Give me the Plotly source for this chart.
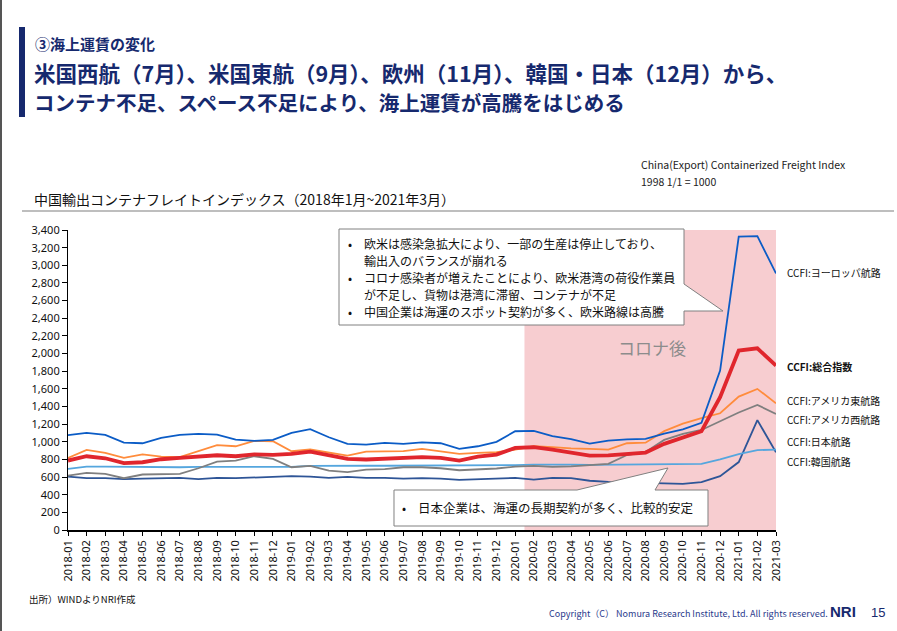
import plotly.graph_objects as go

months = ["2018-01", "2018-02", "2018-03", "2018-04", "2018-05", "2018-06", "2018-07", "2018-08",
          "2018-09", "2018-10", "2018-11", "2018-12", "2019-01", "2019-02", "2019-03", "2019-04",
          "2019-05", "2019-06", "2019-07", "2019-08", "2019-09", "2019-10", "2019-11", "2019-12",
          "2020-01", "2020-02", "2020-03", "2020-04", "2020-05", "2020-06", "2020-07", "2020-08",
          "2020-09", "2020-10", "2020-11", "2020-12", "2021-01", "2021-02", "2021-03"]

europe = [1075, 1100, 1078, 990, 983, 1044, 1078, 1089, 1081, 1025, 1010, 1021, 1100, 1142,
          1051, 976, 968, 987, 976, 994, 983, 919, 949, 999, 1119, 1123, 1065, 1030, 980, 1013,
          1028, 1032, 1092, 1140, 1215, 1806, 3324, 3330, 2908]
composite = [787, 836, 813, 757, 768, 802, 817, 829, 847, 836, 858, 851, 863, 889, 844, 806,
             799, 806, 813, 825, 817, 787, 832, 855, 931, 938, 910, 880, 844, 845, 863, 878,
             976, 1048, 1120, 1504, 2033, 2059, 1863]
us_east = [817, 908, 874, 817, 858, 832, 825, 893, 961, 949, 1010, 1006, 893, 912, 881, 844,
           889, 893, 893, 919, 893, 863, 874, 881, 912, 949, 940, 925, 920, 912, 983, 990,
           1120, 1205, 1268, 1323, 1512, 1599, 1436]
us_west = [617, 648, 636, 587, 629, 636, 636, 700, 776, 787, 836, 806, 711, 727, 674, 655,
           685, 690, 711, 711, 700, 677, 690, 697, 719, 727, 715, 720, 735, 749, 850, 885,
           1021, 1090, 1134, 1230, 1332, 1418, 1315]
japan = [693, 719, 719, 715, 719, 715, 711, 715, 715, 711, 708, 708, 715, 727, 730, 730,
         728, 728, 728, 728, 728, 728, 728, 730, 735, 742, 745, 742, 738, 740, 738, 738,
         738, 740, 749, 800, 860, 905, 912]
korea = [606, 587, 587, 576, 583, 591, 591, 576, 591, 587, 595, 610, 610, 606, 591, 602,
         591, 591, 583, 587, 583, 568, 576, 583, 591, 570, 590, 587, 558, 545, 540, 538,
         530, 523, 542, 610, 770, 1245, 880]

series_names = ["CCFI:韓国航路", "CCFI:日本航路", "CCFI:アメリカ西航路",
                "CCFI:アメリカ東航路", "CCFI:ヨーロッパ航路", "CCFI:総合指数"]
series_values = [korea, japan, us_west, us_east, europe, composite]
series_colors = ["#2E5597", "#55A6DE", "#7F7F7F", "#FF8C3C", "#0B5CC6", "#E0262D"]
series_widths = [1.8, 1.8, 1.8, 1.8, 1.8, 3.8]

covid_start = 24.5  # between 2020-01 and 2020-02

y_ticks = list(range(0, 3401, 200))

W, H = 897, 631
L, R, T, B = 68, 776, 230, 530
JP = "Noto Sans CJK JP"
NAVY = "#16296E"


def px(x):
    return (x - L) / (R - L)


def py(y):
    return (B - y) / (B - T)


fig = go.Figure()
for name, vals, col, w in zip(series_names, series_values, series_colors, series_widths):
    fig.add_trace(go.Scatter(x=months, y=vals, mode="lines", name=name,
                             line=dict(color=col, width=w), showlegend=False))

shapes = []
# pink covid region
shapes.append(dict(type="rect", xref="x", yref="y", x0=covid_start, x1=len(months) - 1,
                   y0=0, y1=3400, fillcolor="#F7CDD0", line=dict(width=0), layer="below"))
# left slide edge
shapes.append(dict(type="line", xref="paper", yref="paper", x0=px(1), x1=px(1),
                   y0=py(0), y1=py(H), line=dict(color="#555555", width=2)))
# title accent bar
shapes.append(dict(type="rect", xref="paper", yref="paper", x0=px(19), x1=px(25),
                   y0=py(117), y1=py(27), fillcolor=NAVY, line=dict(width=0)))
# separator line under chart subtitle
shapes.append(dict(type="line", xref="paper", yref="paper", x0=px(22), x1=px(894),
                   y0=py(211), y1=py(211), line=dict(color="#7F7F7F", width=1.2)))


def path(points):
    s = "M " + " L ".join(f"{px(a):.5f},{py(b):.5f}" for a, b in points) + " Z"
    return s


# callout 1
shapes.append(dict(type="path", xref="paper", yref="paper",
                   path=path([(339, 229), (684, 229), (684, 284), (723, 311), (684, 311),
                              (684, 325), (339, 325)]),
                   fillcolor="white", line=dict(color="#808080", width=1)))
# callout 2
shapes.append(dict(type="path", xref="paper", yref="paper",
                   path=path([(394, 490), (577, 490), (668, 468), (655, 490), (708, 490),
                              (708, 526), (394, 526)]),
                   fillcolor="white", line=dict(color="#808080", width=1)))

ann = []


def text(x, y, s, size, color="#000000", anchor="left", bold=False, family=JP):
    if bold:
        s = f"<b>{s}</b>"
    ann.append(dict(xref="paper", yref="paper", x=px(x), y=py(y), text=s, showarrow=False,
                    xanchor=anchor, yanchor="middle",
                    font=dict(size=size, color=color, family=family)))


text(33, 43, "③海上運賃の変化", 15, NAVY, bold=True)
text(32, 73, "米国西航（7月）、米国東航（9月）、欧州（11月）、韓国・日本（12月）から、", 21.5, NAVY, bold=True)
text(32, 102, "コンテナ不足、スペース不足により、海上運賃が高騰をはじめる", 20.5, NAVY, bold=True)
text(639, 164, "China(Export) Containerized Freight Index", 10.5, "#222222")
text(639, 181, "1998 1/1 = 1000", 10.5, "#222222")
text(32, 199, "中国輸出コンテナフレイトインデックス（2018年1月~2021年3月）", 14, "#111111")

# callout texts
lines1 = ["欧米は感染急拡大により、一部の生産は停止しており、",
          "輸出入のバランスが崩れる",
          "コロナ感染者が増えたことにより、欧米港湾の荷役作業員",
          "が不足し、貨物は港湾に滞留、コンテナが不足",
          "中国企業は海運のスポット契約が多く、欧米路線は高騰"]
ys1 = [243, 260, 277, 294, 311]
bullets1 = [True, False, True, False, True]
for s, yy, bl in zip(lines1, ys1, bullets1):
    if bl:
        text(346, yy, "•", 12, "#111111")
    text(362, yy, s, 12, "#111111")

text(400, 507, "•", 12, "#111111")
text(416, 507, "日本企業は、海運の長期契約が多く、比較的安定", 12.5, "#111111")

text(652, 347, "コロナ後", 17, "#8C8C8C", anchor="center")

# right series labels
label_y = {"CCFI:ヨーロッパ航路": 272, "CCFI:総合指数": 366, "CCFI:アメリカ東航路": 400,
           "CCFI:アメリカ西航路": 419, "CCFI:日本航路": 441, "CCFI:韓国航路": 461}
for name in series_names:
    text(785, label_y[name], name, 10, "#111111", bold=(name == "CCFI:総合指数"))

# footer
text(27, 599, "出所）WINDよりNRI作成", 9.5, "#111111")
text(547, 613, "Copyright（C） Nomura Research Institute, Ltd. All rights reserved.", 9, "#2A3A8C")
text(828, 611, "NRI", 15, NAVY, bold=True, family="Liberation Sans")
text(869, 612, "15", 13, NAVY, family="Liberation Sans")

fig.update_layout(
    width=W, height=H,
    margin=dict(l=L, r=W - R, t=T, b=H - B, pad=0),
    paper_bgcolor="white", plot_bgcolor="rgba(0,0,0,0)",
    shapes=shapes, annotations=ann,
    font=dict(family=JP, color="#111111"),
    xaxis=dict(type="category", range=[0, len(months) - 1], tickangle=-90,
               tickmode="array", tickvals=months, ticktext=months,
               ticks="outside", ticklen=4, tickcolor="black", showline=True,
               linecolor="black", linewidth=1.5, showgrid=False, zeroline=False,
               tickfont=dict(size=11, family="Noto Sans", color="#111111")),
    yaxis=dict(range=[0, 3400], tickvals=y_ticks, tickformat=",", ticks="outside",
               ticklen=5, tickcolor="black", showline=True, linecolor="black",
               linewidth=1.2, showgrid=False, zeroline=False,
               tickfont=dict(size=11, family="Noto Sans", color="#111111")),
)

fig.write_html("out.html", config={"displayModeBar": False},
               post_script="document.body.style.margin='0px';document.body.style.overflow='hidden';")
